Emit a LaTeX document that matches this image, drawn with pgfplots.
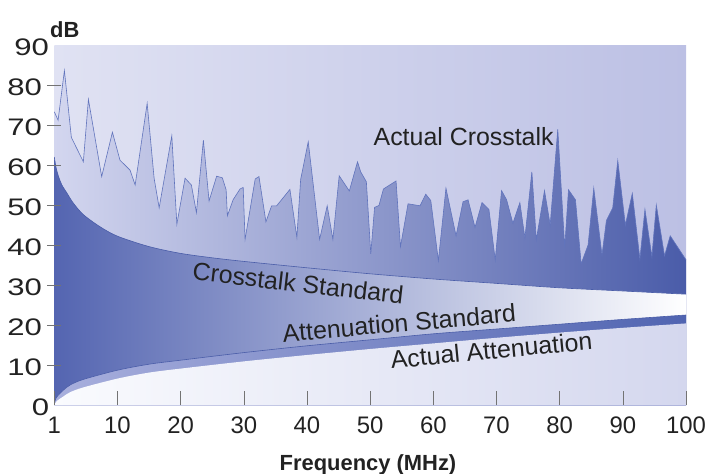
\documentclass[border=0pt]{standalone}
\usepackage{fontspec}
\setmainfont{Liberation Sans}
\usepackage{pgfplots}
\pgfplotsset{compat=1.18}
\usepackage{pgfplotstable}

\definecolor{bgL}{HTML}{E0E2F3}
\definecolor{bgR}{HTML}{BCC0E4}
\definecolor{ctL}{HTML}{D3D6EF}
\definecolor{ctR}{HTML}{4A5CA9}
\definecolor{csL}{HTML}{5465B1}
\definecolor{asL}{HTML}{A8AFDD}
\definecolor{asR}{HTML}{5064B1}
\definecolor{aaL}{HTML}{FAFBFE}
\definecolor{aaR}{HTML}{D4D7EE}
\definecolor{ctLine}{HTML}{6174BC}
\definecolor{stdLine}{HTML}{4A5DA8}
\definecolor{txt}{HTML}{222222}

% actual crosstalk (x = position on the axis, 0 = 1 MHz)
\pgfplotstableread{
x y
0 73.3
0.6 71.2
1.6 83.6
2.7 66.9
4.6 60.8
5.4 76.4
7.5 57.1
9.2 68.2
10.4 61.2
12.0 58.7
12.8 55.0
14.7 75.4
15.8 56.7
16.6 49.3
18.6 67.3
19.4 45.2
20.7 56.7
21.7 55.0
22.5 48.1
23.6 66.2
24.5 51.0
25.7 57.2
26.6 56.8
27.2 53.8
27.4 47.3
28.3 51.3
29.4 54.0
29.9 54.4
30.2 41.4
31.8 56.5
32.4 57.1
33.5 45.8
34.4 49.8
35.2 49.8
37.3 53.9
38.4 41.9
39.0 56.4
40.2 65.8
42.0 41.4
43.2 49.8
44.1 41.4
45.1 57.3
46.7 53.5
48.0 60.8
48.5 58.3
49.4 55.8
50.1 37.8
50.7 49.4
51.4 49.9
52.1 54.0
54.1 56.0
54.8 39.6
56.0 50.3
57.9 49.8
58.8 52.7
59.6 51.1
60.8 36.1
62.0 54.2
63.6 42.3
64.7 50.8
65.5 51.3
66.6 44.4
67.7 50.6
68.8 48.9
69.8 36.3
70.8 53.6
71.6 51.3
72.6 45.4
73.7 50.6
74.5 41.8
75.6 58.3
76.3 41.3
77.6 53.6
78.5 45.0
79.7 68.9
80.8 39.4
81.4 53.8
82.5 51.3
83.4 35.3
84.5 40.0
85.4 54.2
86.7 37.5
87.4 46.1
88.4 49.3
89.2 61.1
90.4 45.0
91.5 52.9
92.7 36.5
93.5 48.9
94.6 37.1
95.3 50.0
96.6 37.3
97.5 42.3
100 36.3
}\actual

% crosstalk standard
\pgfplotstableread{
x y
0 62.0
0.3 59.2
0.7 57.0
1.2 55.0
2.0 53.0
3.0 50.5
4.6 47.6
7.2 44.6
10 42.2
15 39.6
20 37.9
25 36.8
30 35.9
40 34.3
50 32.8
60 31.5
70 30.4
80 29.3
90 28.5
100 27.7
}\cstd

% attenuation standard
\pgfplotstableread{
x y
0 0.4
0.3 1.8
0.9 2.9
1.5 3.8
2.5 5.0
4.6 6.4
10 8.7
15 10.2
20 11.2
30 13.1
40 14.8
50 16.3
60 17.8
70 19.0
80 20.2
90 21.4
100 22.5
}\astd

% actual attenuation
\pgfplotstableread{
x y
0 0.0
0.4 1.0
1.4 2.1
2.5 3.2
4.6 4.4
10 6.6
15 8.1
20 9.1
30 10.9
40 12.5
50 14.0
60 15.4
70 16.8
80 18.1
90 19.3
100 20.4
}\aact

\begin{document}
\begin{tikzpicture}
\useasboundingbox (-54.3bp,-69bp) rectangle (656.7bp,405bp);
\begin{axis}[
  scale only axis, width=631.7bp, height=360bp,
  xmin=0, xmax=100, ymin=0, ymax=90,
  xtick={0,10,...,100},
  xticklabels={\mbox{1},\mbox{10},\mbox{20},\mbox{30},\mbox{40},\mbox{50},
    \mbox{60},\mbox{70},\mbox{80},\mbox{90},\mbox{100}},
  ytick={10,20,...,80},
  extra y ticks={0,90},
  extra y tick style={major tick length=0pt},
  /pgf/number format/assume math mode=true,
  tick pos=left, tick align=inside, ytick align=center,
  major tick length=14bp,
  tick style={draw=black!55, line width=0.6bp},
  axis line style={draw=none},
  axis on top, clip=false,
  axis background/.style={left color=bgL, right color=bgR},
  tick label style={font=\fontsize{24}{24}\selectfont, text=txt},
  xticklabel style={anchor=north, inner sep=0pt, yshift=-12bp},
  yticklabel style={anchor=east, inner sep=0pt, xshift=-5bp, yshift=-2bp, xscale=1.3},
  xlabel={Frequency (MHz)},
  xlabel style={at={(axis description cs:0.4966,-0.1667)}, anchor=center,
    font=\bfseries\fontsize{22}{22}\selectfont, text=txt},
  ylabel={dB},
  ylabel style={rotate=-90, at={(axis description cs:0.0165,1.043)}, anchor=center,
    font=\bfseries\fontsize{22}{22}\selectfont, text=txt},
]
\addplot[draw=none, left color=ctL, right color=ctR] table[x=x,y=y]{\actual} \closedcycle;
\addplot[draw=none, smooth, left color=csL, right color=white] table[x=x,y=y]{\cstd} \closedcycle;
\addplot[draw=none, smooth, left color=asL, right color=asR] table[x=x,y=y]{\astd} \closedcycle;
\addplot[draw=none, smooth, left color=aaL, right color=aaR] table[x=x,y=y]{\aact} \closedcycle;

\addplot[ctLine, line width=0.6bp] table[x=x,y=y]{\actual};
\addplot[stdLine, line width=0.6bp, smooth] table[x=x,y=y]{\cstd};
\addplot[stdLine, line width=0.6bp, smooth] table[x=x,y=y]{\astd};

\begin{scope}[every node/.style={font=\fontsize{25}{25}\selectfont, text=txt}]
\node at (axis cs:64.8,67.1) {Actual Crosstalk};
\node[rotate=-6.5] at (axis cs:38.6,30.5) {Crosstalk Standard};
\node[rotate=5] at (axis cs:54.6,20.5) {Attenuation Standard};
\node[rotate=5.5] at (axis cs:69.2,13.7) {Actual Attenuation};
\end{scope}
\end{axis}
\end{tikzpicture}
\end{document}
